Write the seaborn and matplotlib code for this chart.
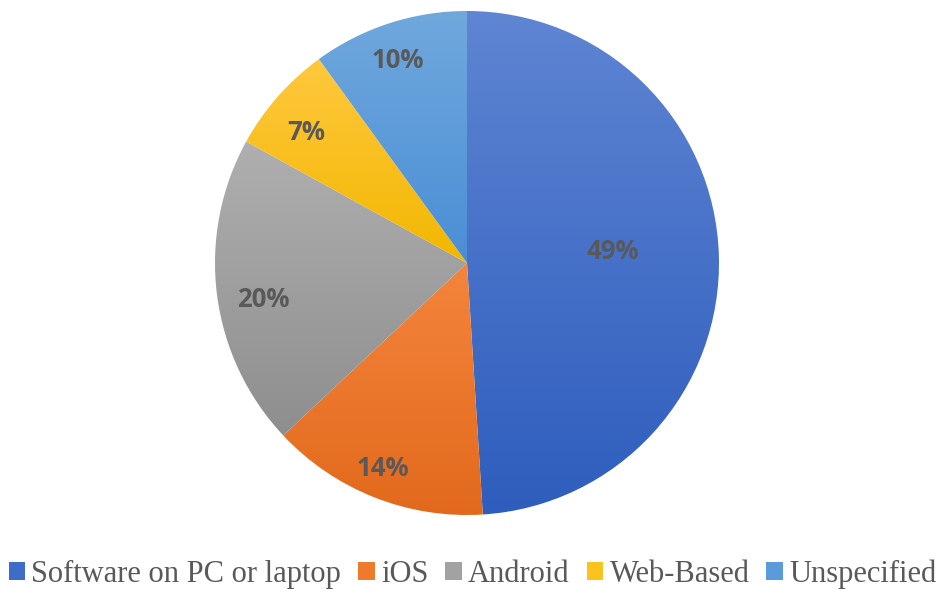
import numpy as np
import matplotlib
matplotlib.use("Agg")
import matplotlib.pyplot as plt
import seaborn as sns
from matplotlib.colors import LinearSegmentedColormap
from matplotlib.patches import Patch

# data
labels = ['Software on PC or laptop', 'iOS', 'Android', 'Web-Based', 'Unspecified']
shares = [49, 14, 20, 7, 10]

# gradient colours (top, bottom) for each slice
top_colors = ['#5F85D3', '#F4853C', '#AFAFAF', '#FFC83E', '#70A8DD']
bottom_colors = ['#2E5DBD', '#E2691C', '#8E8E8E', '#F2B700', '#4A8ED5']
legend_colors = ['#3F6CC8', '#EE7A2C', '#A2A2A2', '#FCC21E', '#5B9BDA']
# where each % label sits (fraction of radius, degrees off the slice middle)
label_dist = [0.58, 0.87, 0.82, 0.83, 0.86]
label_shift = [4, -1, 2, 1.7, 0.6]

sns.set_theme(style='white')

fig = plt.figure(figsize=(9.45, 5.95), dpi=100)
cx, cy, R = 467, 263, 252
ax = fig.add_axes([(cx - R) / 945, (595 - cy - R) / 595, 2 * R / 945, 2 * R / 595])

wedges, _ = ax.pie(shares, startangle=90, counterclock=False, radius=1,
                   colors=legend_colors, wedgeprops=dict(linewidth=0))

# vertical gradient inside each wedge
for w, c0, c1 in zip(wedges, top_colors, bottom_colors):
    verts = w.get_path().vertices
    y0, y1 = verts[:, 1].min(), verts[:, 1].max()
    cmap = LinearSegmentedColormap.from_list('g', [c1, c0])
    grad = np.linspace(0, 1, 256).reshape(-1, 1)
    im = ax.imshow(grad, cmap=cmap, origin='lower', extent=[-1, 1, y0, y1],
                   aspect='auto', zorder=w.get_zorder() + 0.1)
    im.set_clip_path(w)
    w.set_facecolor('none')
ax.set_xlim(-1, 1)
ax.set_ylim(-1, 1)
ax.set_aspect('equal')
ax.axis('off')

# percentage labels
total = sum(shares)
start = 90
for s, d, sh in zip(shares, label_dist, label_shift):
    mid = np.deg2rad(start - 360 * s / total / 2 + sh)
    start -= 360 * s / total
    ax.text(d * np.cos(mid), d * np.sin(mid), f'{s}%', ha='center', va='center_baseline',
            fontsize=18.5, fontweight='bold', color='#595959',
            family=['Open Sans', 'DejaVu Sans'], zorder=10)

handles = [Patch(facecolor=c, edgecolor='none') for c in legend_colors]
fig.legend(handles, labels, loc='center', bbox_to_anchor=(0.5, 1 - 574 / 595),
           ncol=5, frameon=False, handlelength=0.55, handleheight=0.55,
           handletextpad=0.2, columnspacing=0.55,
           prop=dict(family='Liberation Serif', size=22))
for t in fig.legends[0].get_texts():
    t.set_color('#595959')

fig.savefig('out.png', dpi=100)
